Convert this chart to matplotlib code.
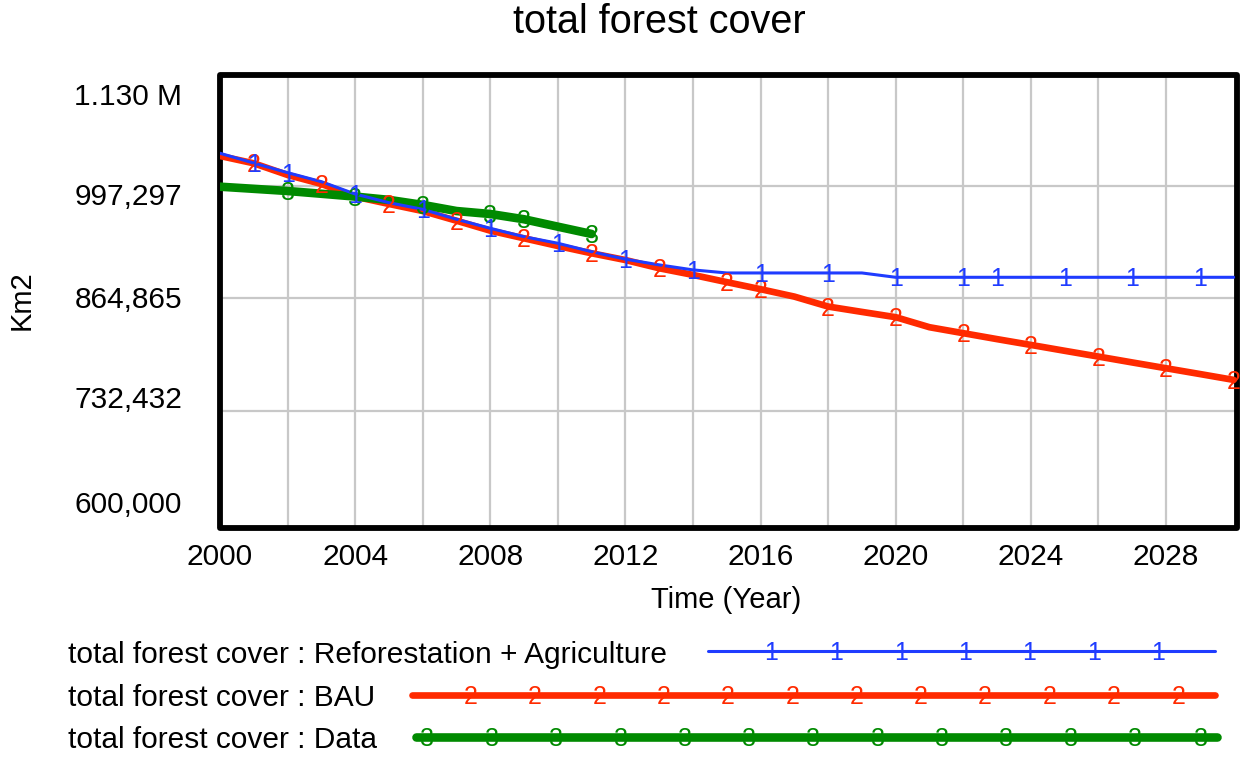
import numpy as np
import matplotlib
matplotlib.use("Agg")
import matplotlib.pyplot as plt
from matplotlib.patches import Rectangle
from matplotlib.transforms import ScaledTranslation, blended_transform_factory
from matplotlib.lines import Line2D

plt.rcParams["font.family"] = ["Liberation Sans", "DejaVu Sans"]

# ---- data -------------------------------------------------------------
years = list(range(2000, 2031))

reforestation_agri = [
    1035500, 1024000, 1012700, 1002100, 987600, 977400, 969600, 957900,
    947300, 937400, 929700, 919800, 911000, 904300, 898400, 894800,
    894800, 894800, 894800, 894800, 889700, 889700, 889700, 889700,
    889700, 889700, 889700, 889700, 889700, 889700, 889700,
]

bau = [
    1032300, 1023700, 1010000, 999400, 984500, 975900, 967600, 956200,
    944500, 935500, 926500, 917900, 910000, 900300, 892500, 884000,
    875700, 867000, 855300, 849000, 842800, 831000, 824000, 817000,
    810200, 803300, 796500, 789600, 782800, 776000, 769100,
]

data_years = list(range(2000, 2012))
observed = [
    996200, 993700, 991150, 987900, 984600, 980700, 974800, 967600,
    964100, 957900, 949200, 940600,
]

# years at which each series carries its number tag
tag_years_1 = [2001, 2002, 2004, 2006, 2008, 2010, 2012, 2014, 2016, 2018,
               2020, 2022, 2023, 2025, 2027, 2029]
tag_years_2 = [2001, 2003, 2005, 2007, 2009, 2011, 2013, 2015, 2016, 2018,
               2020, 2022, 2024, 2026, 2028, 2030]
tag_years_3 = [2002, 2004, 2006, 2008, 2009, 2011]

ytick_values = [600000, 732432, 864865, 997297, 1130000]
ytick_labels = ["600,000", "732,432", "864,865", "997,297", "1.130 M"]
xtick_values = list(range(2000, 2030, 4))
xgrid_values = list(range(2002, 2030, 2))

series_names = [
    "total forest cover : Reforestation + Agriculture",
    "total forest cover : BAU",
    "total forest cover : Data",
]

# ---- style ------------------------------------------------------------
W, H = 1242, 758
BLUE = "#1f3cff"
RED = "#ff2a00"
GREEN = "#008a00"
GRID = "#c8c8c8"

fig = plt.figure(figsize=(W / 100, H / 100), dpi=100)


def fx(x):
    return x / W


def fy(y):
    return 1 - y / H


ax_left, ax_right, ax_top, ax_bottom = 220, 1237, 75, 528
ax = fig.add_axes([fx(ax_left), fy(ax_bottom),
                   (ax_right - ax_left) / W, (ax_bottom - ax_top) / H])
ax.set_xlim(2000, 2030.1)
ax.set_ylim(595000, 1127500)

for s in ax.spines.values():
    s.set_visible(False)
ax.add_patch(Rectangle((0, 0), 1, 1, transform=ax.transAxes, fill=False,
                       lw=4.2, ec="black", joinstyle="round", clip_on=False,
                       zorder=2.5))

# grid
for xv in xgrid_values:
    ax.axvline(xv, color=GRID, lw=1.6, zorder=1)
for yv in ytick_values[1:-1]:
    ax.axhline(yv, color=GRID, lw=1.6, zorder=1)

# x ticks
ax.set_xticks(xtick_values)
ax.set_xticklabels([str(v) for v in xtick_values], fontsize=21.5)
ax.tick_params(axis="x", length=0, pad=11)
ax.set_yticks([])

# y tick labels, spread evenly inside the frame height
ynudge_px = [-18.7, -11.0, 1.7, 11.1, 23.8]
ytrans = blended_transform_factory(ax.transAxes, ax.transData)
for v, lab, dy in zip(ytick_values, ytick_labels, ynudge_px):
    t = ytrans + ScaledTranslation(0, -dy / 100, fig.dpi_scale_trans)
    ax.text(-0.0374, v, lab, transform=t, ha="right", va="center",
            fontsize=21.5, clip_on=False)

# series
ax.plot(years, bau, color=RED, lw=4.8, solid_capstyle="round", zorder=3)
ax.plot(years, reforestation_agri, color=BLUE, lw=2.2,
        solid_capstyle="round", zorder=3.2)
ax.plot(data_years, observed, color=GREEN, lw=6.2, solid_capstyle="round",
        zorder=3.1)

tag_fs = 18
tag_shift = ScaledTranslation(0, -0.02, fig.dpi_scale_trans)
for tyears, xs, ys, col, tag in [
    (tag_years_3, data_years, observed, GREEN, "3"),
    (tag_years_2, years, bau, RED, "2"),
    (tag_years_1, years, reforestation_agri, BLUE, "1"),
]:
    for ty in tyears:
        ax.text(ty, np.interp(ty, xs, ys), tag, color=col, fontsize=tag_fs,
                ha="center", va="center", zorder=4, clip_on=False,
                transform=ax.transData + tag_shift)

# titles
fig.text(fx(659), fy(22), "total forest cover", fontsize=28.5,
         ha="center", va="center")
fig.text(fx(726), fy(600), "Time (Year)", fontsize=21, ha="center",
         va="center")
fig.text(fx(22), fy(300), "Km2", fontsize=21, ha="center", va="center",
         rotation=90)

# legend
legend_rows = [
    (series_names[0], 655, 651, 708, 1215, BLUE, 2.2, "1",
     [771, 836, 901, 965, 1029, 1094, 1158]),
    (series_names[1], 698, 695, 412, 1215, RED, 4.8, "2",
     [471, 535, 600, 664, 728, 793, 857, 921, 985, 1050, 1114, 1179]),
    (series_names[2], 740, 737, 416, 1217, GREEN, 6.2, "3",
     [427, 492, 556, 621, 685, 749, 813, 878, 942, 1006, 1071, 1135, 1201]),
]
for name, ty, ly, x0, x1, col, lw, tag, tag_xs in legend_rows:
    fig.text(fx(68), fy(ty), name, fontsize=21.5, ha="left", va="center")
    fig.add_artist(Line2D([fx(x0), fx(x1)], [fy(ly), fy(ly)], color=col,
                          lw=lw, solid_capstyle="round",
                          transform=fig.transFigure))
    for tx in tag_xs:
        fig.text(fx(tx), fy(ly + 2), tag, color=col, fontsize=tag_fs,
                 ha="center", va="center", zorder=4)

fig.savefig("out.png", dpi=100)
